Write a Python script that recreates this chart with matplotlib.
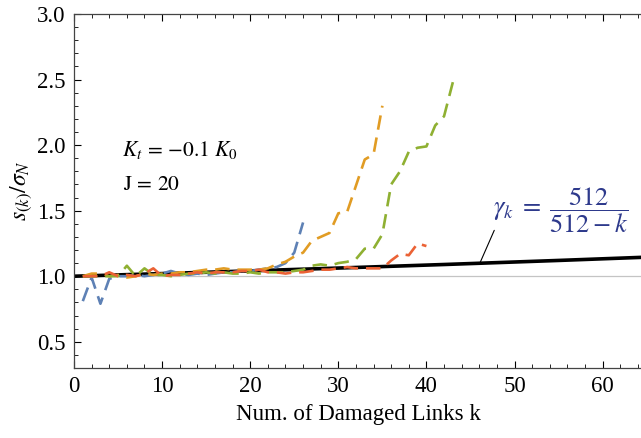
import matplotlib
matplotlib.use("Agg")
import matplotlib.pyplot as plt
import numpy as np

plt.rcParams["font.family"] = ["Liberation Serif", "DejaVu Serif"]
plt.rcParams["mathtext.fontset"] = "stix"

# normalised spread vs number of damaged links, four runs
blue = [0.81, 0.99, 0.79, 0.98, 1.00, 1.00, 1.01, 1.00, 1.01, 1.02, 1.04, 1.02, 1.01,
        1.02, 1.01, 1.02, 1.03, 1.03, 1.04, 1.04, 1.05, 1.06, 1.07, 1.10, 1.18, 1.41]
orange = [1.00, 1.02, 1.02, 1.00, 1.01, 0.99, 1.00, 1.02, 1.01, 1.02, 1.02, 1.03, 1.03,
          1.04, 1.05, 1.05, 1.06, 1.05, 1.05, 1.05, 1.05, 1.06, 1.09, 1.11, 1.15, 1.18,
          1.27, 1.30, 1.33, 1.48, 1.49, 1.69, 1.89, 1.93, 2.30]
green = [1.00, 1.00, 1.00, 1.00, 1.00, 1.08, 1.00, 1.06, 1.01, 1.01, 1.00, 1.01, 1.02,
         1.02, 1.03, 1.02, 1.03, 1.02, 1.02, 1.03, 1.02, 1.03, 1.03, 1.03, 1.04, 1.05,
         1.08, 1.09, 1.08, 1.10, 1.11, 1.13, 1.21, 1.21, 1.32, 1.70, 1.80, 1.95, 1.98,
         1.99, 2.15, 2.22, 2.48]
red = [1.00, 1.00, 1.00, 1.03, 1.00, 1.01, 1.00, 1.02, 1.06, 1.00, 1.01, 1.01, 1.02,
       1.03, 1.02, 1.03, 1.03, 1.03, 1.04, 1.04, 1.05, 1.03, 1.03, 1.02, 1.03, 1.03,
       1.04, 1.05, 1.05, 1.06, 1.07, 1.06, 1.06, 1.06, 1.06, 1.12, 1.17, 1.16, 1.25, 1.23]
series = [(blue, "#5E81B5"), (orange, "#E19C24"), (green, "#8FB032"), (red, "#EB6235")]

N = 512
k_max = 64.5

fig = plt.figure(figsize=(6.41, 4.38), dpi=100)
ax = fig.add_axes([74 / 641, 70 / 438, 1 - 74 / 641 + 0.002, 354 / 438])

ax.axhline(1.0, color="#c4c4c4", lw=0.9, zorder=1)
kk = np.linspace(0, k_max, 200)
ax.plot(kk, N / (N - kk), color="black", lw=2.6, zorder=2)

for vals, col in series:
    k = np.arange(1, len(vals) + 1)
    ax.plot(k, vals, color=col, lw=1.9, ls=(0, (5.5, 3)), zorder=3)

ax.set_xlim(0, k_max)
ax.set_ylim(0.3, 3.0)
ax.set_xticks(np.arange(0, 61, 10))
ax.set_xticks(np.arange(0, 65, 2), minor=True)
ax.set_yticks(np.arange(0.5, 3.01, 0.5))
ax.set_yticks(np.arange(0.3, 3.01, 0.1), minor=True)
ax.tick_params(which="both", direction="in", top=True, right=False, labelsize=16.5, pad=6)
ax.tick_params(which="major", length=5, width=0.8)
ax.tick_params(which="minor", length=3, width=0.6)
ax.spines["right"].set_visible(False)
for s in ("left", "bottom", "top"):
    ax.spines[s].set_color("#444444")
    ax.spines[s].set_linewidth(0.9)

ax.set_xlabel("Num. of Damaged Links k", fontsize=16.5, labelpad=5)
ax.set_ylabel(r"$s_{(k)}/\sigma_N$", fontsize=17, labelpad=2)

ax.text(5.4, 1.96, r"$K_t\,=\,{-}0.1\ K_0$", fontsize=15.5, va="center")
ax.text(5.6, 1.69, r"$\mathrm{J}\,=\,20$", fontsize=15.5, va="center")

ax.text(47.6, 1.50, r"$\gamma_k\;=\;\dfrac{512}{512 - k}$", fontsize=19, color="#2E3A8C",
        va="center")
ax.annotate("", xy=(46.1, 1.105), xytext=(47.7, 1.35),
            arrowprops=dict(arrowstyle="-", color="black", lw=0.8, shrinkA=0, shrinkB=0))

fig.savefig("out.png", dpi=100)
